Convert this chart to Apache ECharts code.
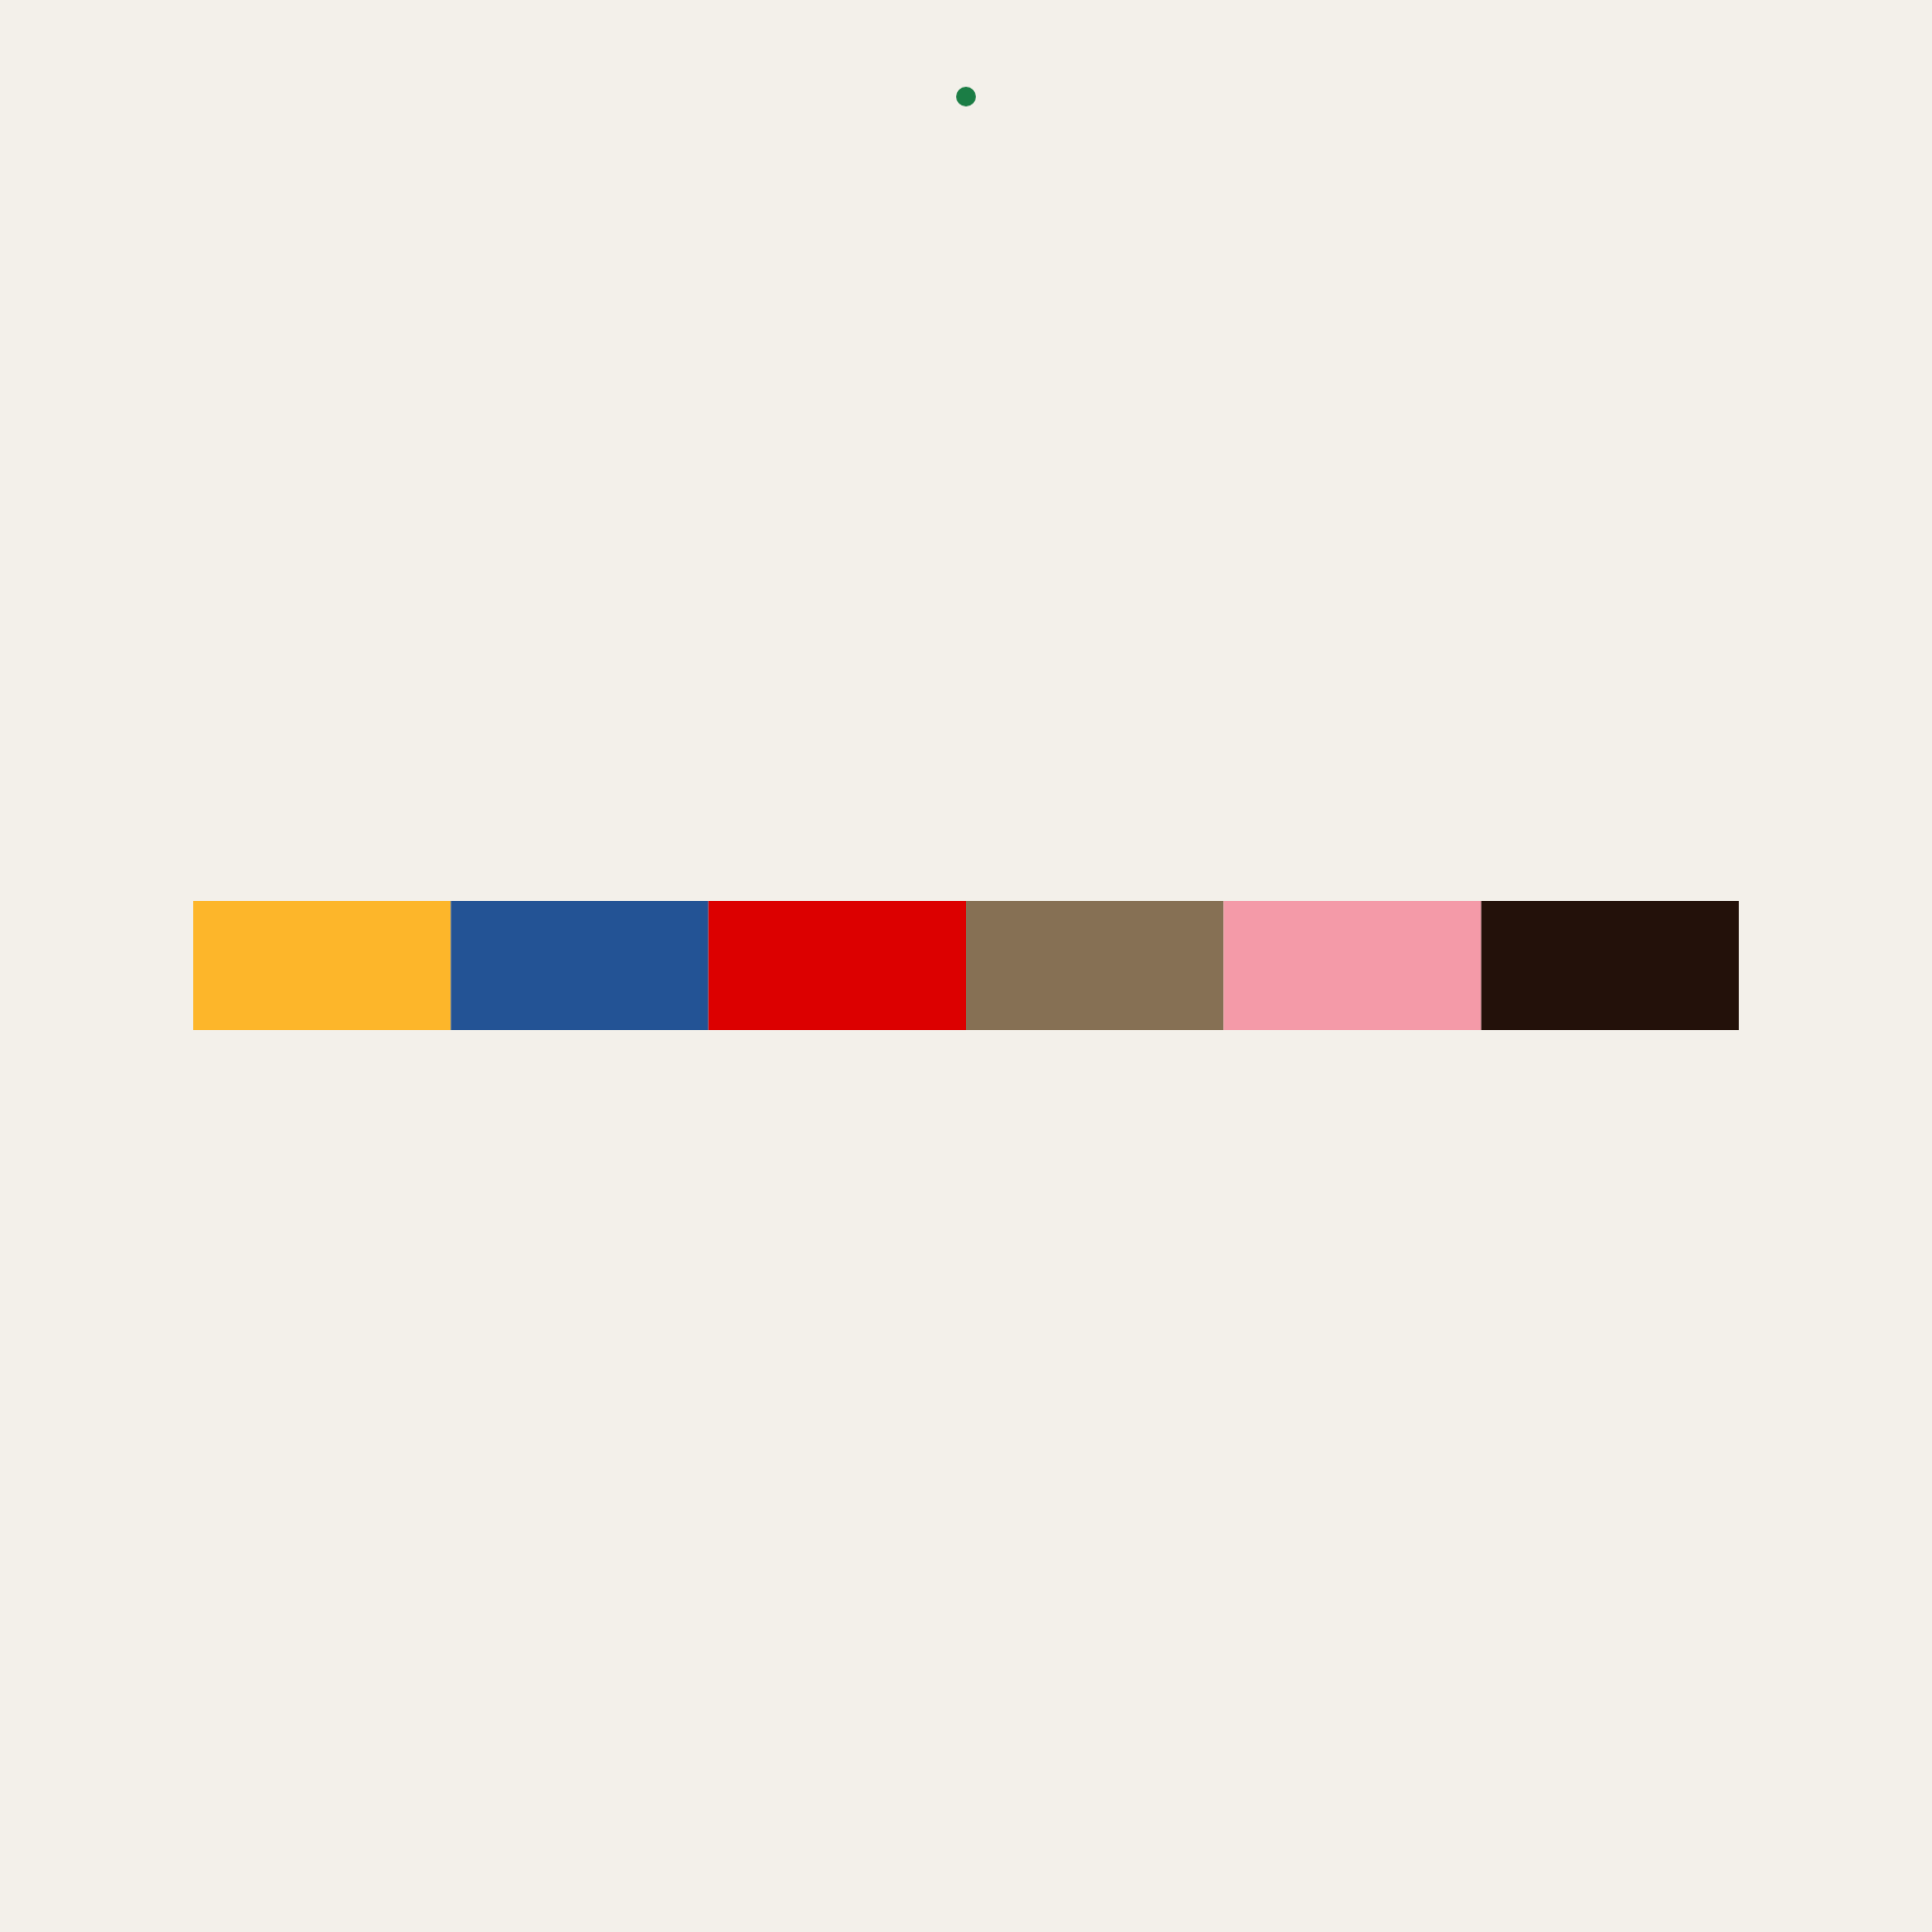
<!DOCTYPE html>
<html>
<head>
<meta charset="utf-8">
<script src="https://cdn.jsdelivr.net/npm/echarts@6/dist/echarts.min.js"></script>
<style>html,body{margin:0;padding:0;background:#F3F0EA;}#c{width:1960px;height:1960px;}</style>
</head>
<body>
<div id="c"></div>
<script>
const categories = [''];
const segmentNames = ['a', 'b', 'c', 'd', 'e', 'f'];
const segmentValues = [1, 1, 1, 1, 1, 1];
const segmentColors = ['#FDB62A', '#235395', '#DC0000', '#867054', '#F49AA8', '#23110A'];
const legendNames = [' '];
const legendColors = ['#1B7D45'];

const chart = echarts.init(document.getElementById('c'), null, {renderer: 'canvas'});
const series = segmentNames.map((n, i) => ({
  name: n,
  type: 'bar',
  stack: 'all',
  data: [segmentValues[i]],
  itemStyle: {color: segmentColors[i]},
  barWidth: '100%',
  silent: true
}));
legendNames.forEach((n, i) => series.push({
  name: n, type: 'scatter', data: [], itemStyle: {color: legendColors[i], opacity: 1}
}));
chart.setOption({
  backgroundColor: '#F3F0EA',
  animation: false,
  legend: {
    data: legendNames.map((n, i) => ({name: n, itemStyle: {color: legendColors[i], opacity: 1}})),
    left: 'center',
    top: 83,
    icon: 'circle',
    itemWidth: 20,
    itemHeight: 20,
    itemGap: 0,
    formatter: () => '',
    textStyle: {fontSize: 1}
  },
  grid: {left: 196, right: 196, top: 914, height: 131, containLabel: false},
  xAxis: {type: 'value', min: 0, max: segmentValues.reduce((a, b) => a + b, 0), show: false},
  yAxis: {type: 'category', data: categories, show: false},
  series: series
});
</script>
</body>
</html>
